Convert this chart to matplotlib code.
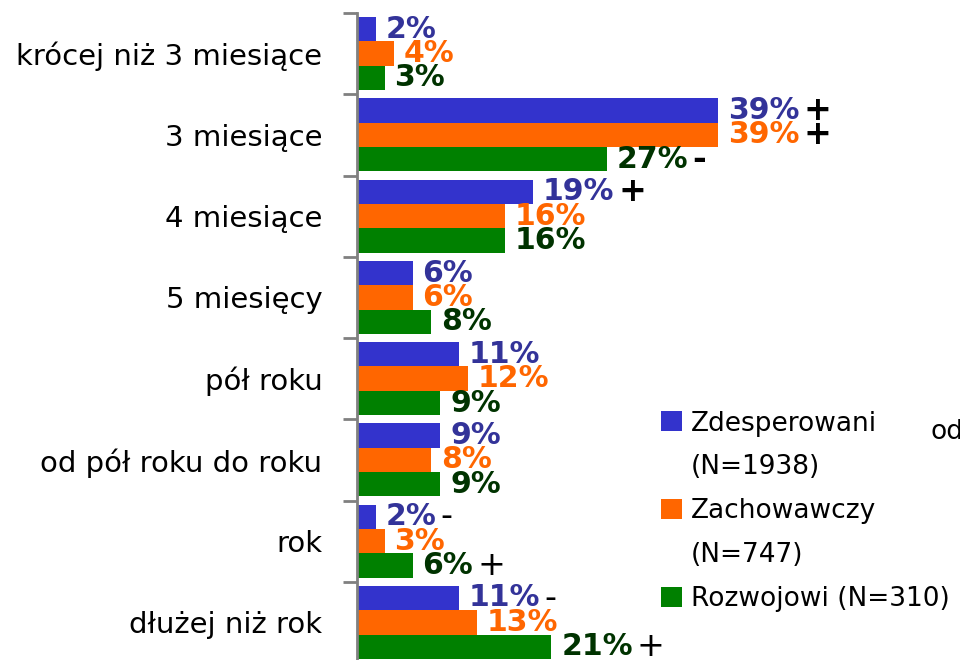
import matplotlib.pyplot as plt
import numpy as np

# Dane
kategorie = ["krócej niż 3 miesiące", "3 miesiące", "4 miesiące", "5 miesięcy",
             "pół roku", "od pół roku do roku", "rok", "dłużej niż rok"]
serie = ["Zdesperowani", "Zachowawczy", "Rozwojowi"]
liczebnosci = ["(N=1938)", "(N=747)", "(N=310)"]
zdesperowani = [2, 39, 19, 6, 11, 9, 2, 11]
zachowawczy = [4, 39, 16, 6, 12, 8, 3, 13]
rozwojowi = [3, 27, 16, 8, 9, 9, 6, 21]
# znaki istotności: (kategoria, seria, znak)
znaki = [(1, 0, "+"), (1, 1, "+"), (1, 2, "-"), (2, 0, "+"),
         (6, 0, "-"), (6, 2, "+"), (7, 0, "-"), (7, 2, "+")]

kolory = ["#3333CC", "#FF6600", "#008000"]
kolory_etykiet = ["#333399", "#FF6600", "#003300"]
wartosci = [zdesperowani, zachowawczy, rozwojowi]

fig = plt.figure(figsize=(9.6, 6.6), dpi=100)
ax = fig.add_axes([357 / 960, -3 / 660, 603 / 960, 650 / 660])

y = np.arange(len(kategorie))
h = 0.3
etykiety = {}
uchwyty = []
for j, (vals, kol, kol_et) in enumerate(zip(wartosci, kolory, kolory_etykiet)):
    pos = y + (j - 1) * h
    b = ax.barh(pos, vals, height=h, color=kol)
    uchwyty.append(b)
    for i, (p, v) in enumerate(zip(pos, vals)):
        t = ax.annotate(f"{v}%", xy=(v, p), xytext=(7, 0), textcoords="offset points",
                        va="center", ha="left", fontsize=21.5, fontweight="bold",
                        color=kol_et)
        etykiety[(i, j)] = t

for i, j, z in znaki:
    ax.annotate(z, xy=(1, 0.5), xycoords=etykiety[(i, j)], xytext=(3, 0),
                textcoords="offset points", va="center", ha="left",
                fontsize=24, color="black", fontweight="bold" if i < 3 else "normal")

ax.set_xlim(0, 603 / 9.26)
ax.set_ylim(len(kategorie) - 0.5, -0.5)
ax.set_yticks(y)
ax.set_yticklabels(kategorie, fontsize=21)
ax.set_yticks(np.arange(len(kategorie) + 1) - 0.5, minor=True)
ax.tick_params(axis="y", which="major", length=0, pad=25)
ax.tick_params(axis="y", which="minor", length=10, width=2, color="#808080")
ax.set_xticks([])
for s in ["top", "right", "bottom"]:
    ax.spines[s].set_visible(False)
ax.spines["left"].set_color("#808080")
ax.spines["left"].set_linewidth(2)

# legenda: nazwa grupy z kwadratem, liczebność w osobnym wierszu
pusty = plt.Rectangle((0, 0), 1, 1, fill=False, edgecolor="none")
handles = [uchwyty[0], pusty, uchwyty[1], pusty, uchwyty[2]]
labels = [serie[0], liczebnosci[0], serie[1], liczebnosci[1],
          serie[2] + " " + liczebnosci[2]]
fig.legend(handles, labels, loc="upper left", bbox_to_anchor=(650 / 960, 1 - 400 / 660),
           frameon=False, fontsize=19, handlelength=0.8, handleheight=0.8,
           handletextpad=0.34, labelspacing=0.68, borderaxespad=0)
fig.text(930 / 960, 1 - 432 / 660, "od", fontsize=19, va="center", ha="left")

fig.savefig("out.png", dpi=100)
